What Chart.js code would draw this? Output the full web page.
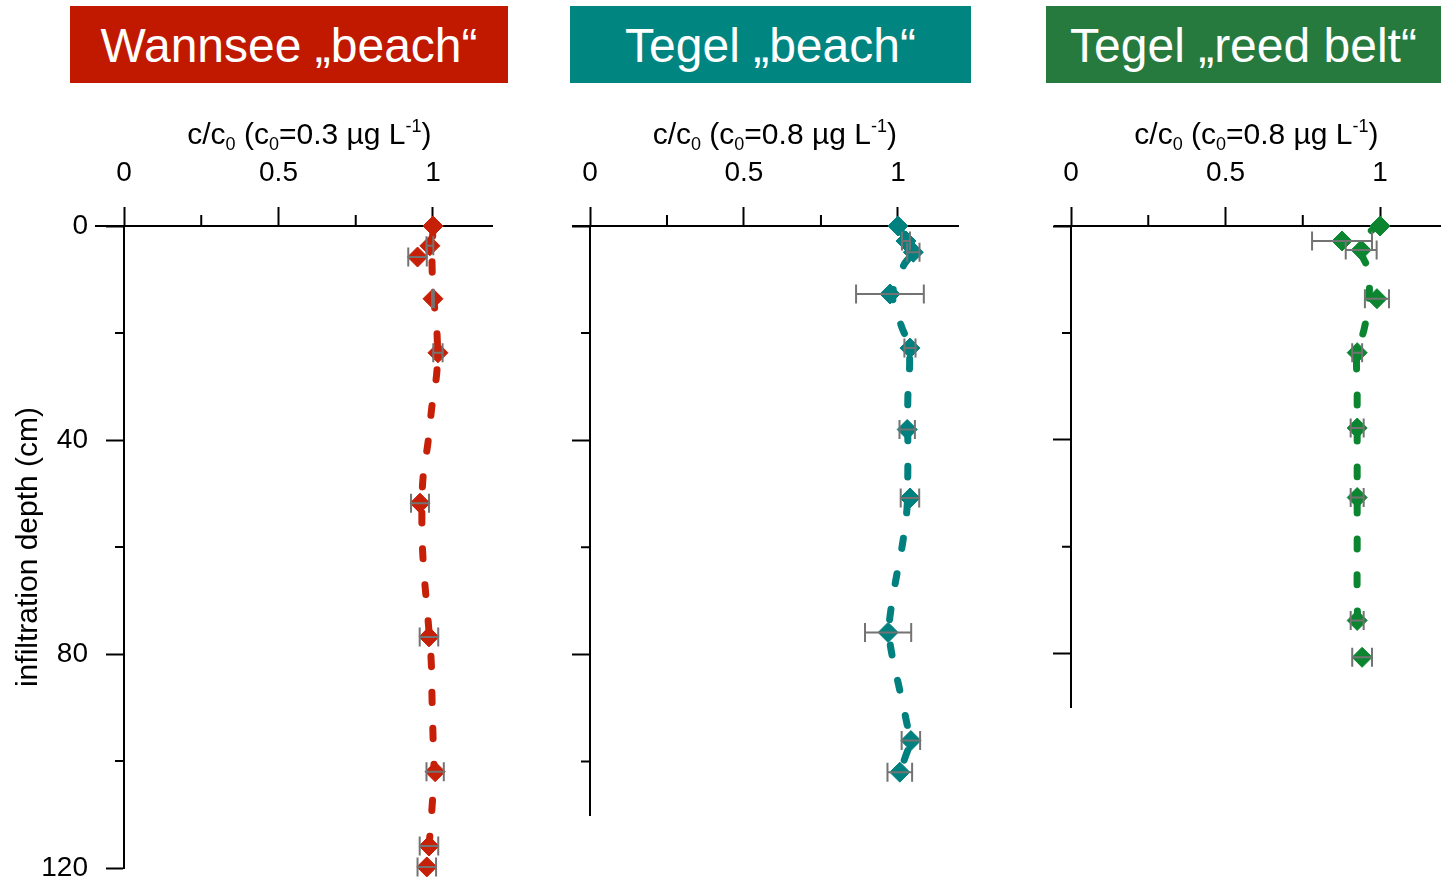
<!DOCTYPE html>
<html>
<head>
<meta charset="utf-8">
<script src="https://cdn.jsdelivr.net/npm/chart.js@4.4.1/dist/chart.umd.min.js"></script>
<style>
  html, body { margin: 0; padding: 0; background: #fff; }
  #wrap { position: relative; width: 1441px; height: 884px; overflow: hidden; font-family: "Liberation Sans", Arial, sans-serif; }
  canvas { position: absolute; left: 0; top: 0; }
  .head { position: absolute; top: 6px; height: 77px; line-height: 79px; color: #fff; font-size: 48px; text-align: center; white-space: nowrap; }
</style>
</head>
<body>
<div id="wrap">
  <div class="head" style="left:70px;width:438px;background:#c01900">Wannsee „beach“</div>
  <div class="head" style="left:570px;width:401px;background:#008581">Tegel „beach“</div>
  <div class="head" style="left:1046px;width:395px;background:#267a3e">Tegel „reed belt“</div>
  <canvas id="c1" width="1441" height="884"></canvas>
  <canvas id="c2" width="1441" height="884"></canvas>
  <canvas id="c3" width="1441" height="884"></canvas>
</div>
<script>
// measured profiles: depth (cm), c/c0 and its error
const wannseeDepth = [0, 3.7, 5.8, 13.6, 23.7, 51.8, 76.8, 102, 115.9, 119.8];
const wannseeRatio = [1.0, 0.99, 0.95, 1.0, 1.016, 0.958, 0.987, 1.007, 0.987, 0.98];
const wannseeErr   = [0, 0.011, 0.03, 0.003, 0.015, 0.029, 0.03, 0.028, 0.03, 0.03];
const wannseeTrendDepth = [0, 7.3, 13.8, 20, 26.9, 33.5, 40.4, 46.9, 54.4, 62.4, 73.6, 81.1, 88.6, 95.1, 102, 108.6, 115.9, 120];
const wannseeTrendRatio = [1.0, 0.997, 1.003, 1.013, 1.013, 0.997, 0.984, 0.968, 0.964, 0.968, 0.984, 0.994, 0.997, 1.0, 1.003, 0.997, 0.987, 0.98];

const tegelDepth = [0, 2.8, 4.9, 12.7, 22.8, 38.0, 50.8, 75.9, 96.1, 102.0];
const tegelRatio = [1.0, 1.026, 1.05, 0.974, 1.039, 1.03, 1.039, 0.968, 1.042, 1.006];
const tegelErr   = [0, 0.013, 0.02, 0.11, 0.018, 0.025, 0.03, 0.075, 0.03, 0.04];
const tegelTrendDepth = [0, 2.6, 4.9, 7.3, 12.7, 18.5, 22.8, 32.5, 38.1, 46, 53, 60, 67.1, 73, 75.9, 80.2, 86.7, 92.9, 96.1, 99.3, 102];
const tegelTrendRatio = [1.0, 1.026, 1.045, 1.019, 0.983, 1.01, 1.036, 1.032, 1.032, 1.032, 1.029, 1.013, 0.99, 0.974, 0.971, 0.981, 1.006, 1.029, 1.039, 1.023, 1.006];

const reedDepth = [0, 2.8, 4.5, 13.6, 23.7, 37.8, 50.8, 73.8, 80.7];
const reedRatio = [1.0, 0.877, 0.939, 0.99, 0.926, 0.926, 0.926, 0.926, 0.942];
const reedErr   = [0, 0.097, 0.05, 0.039, 0.016, 0.021, 0.021, 0.021, 0.032];
const reedTrendDepth = [0, 1.1, 4.5, 8.2, 13.8, 19.4, 23.7, 30, 40, 50, 60, 70, 76];
const reedTrendRatio = [1.0, 0.968, 0.939, 0.961, 0.964, 0.948, 0.926, 0.926, 0.926, 0.926, 0.926, 0.926, 0.929];

const xTickValues = [0, 0.25, 0.5, 0.75, 1];
const xTickLabels = ['0', '', '0.5', '', '1'];
const yTickValues = [0, 20, 40, 60, 80, 100, 120];
const yTitle = 'infiltration depth (cm)';

const FONT = '"Liberation Sans", Arial, sans-serif';
const X_AXIS_H = 100;
const Y_AXIS_W = 113;
const AREA_TOP = 226;

function drawRich(ctx, pieces, cx, base) {
  const fonts = { n: '30px ' + FONT, sub: '18px ' + FONT, sup: '18px ' + FONT };
  const shift = { n: 0, sub: 6, sup: -12 };
  let total = 0;
  pieces.forEach(p => { ctx.font = fonts[p[1]]; total += ctx.measureText(p[0]).width; });
  let xx = cx - total / 2;
  ctx.textAlign = 'left';
  ctx.textBaseline = 'alphabetic';
  pieces.forEach(p => {
    ctx.font = fonts[p[1]];
    ctx.fillText(p[0], xx, base + shift[p[1]]);
    xx += ctx.measureText(p[0]).width;
  });
}

function noPad(s) {
  s.paddingLeft = s.paddingRight = s.paddingTop = s.paddingBottom = 0;
}

const extras = {
  id: 'extras',
  afterDatasetsDraw(chart, args, o) {
    const { ctx, scales: { x, y } } = chart;
    ctx.save();
    ctx.strokeStyle = '#737373';
    ctx.lineWidth = 2;
    o.depth.forEach((d, i) => {
      if (!o.err[i]) return;
      const py = y.getPixelForValue(d);
      const x1 = x.getPixelForValue(o.ratio[i] - o.err[i]);
      const x2 = x.getPixelForValue(o.ratio[i] + o.err[i]);
      ctx.beginPath();
      ctx.moveTo(x1, py); ctx.lineTo(x2, py);
      ctx.moveTo(x1, py - 9.5); ctx.lineTo(x1, py + 9.5);
      ctx.moveTo(x2, py - 9.5); ctx.lineTo(x2, py + 9.5);
      ctx.stroke();
    });
    ctx.restore();
  },
  afterDraw(chart, args, o) {
    const { ctx, scales: { x, y } } = chart;
    const x0 = x.getPixelForValue(0);
    const y0 = y.getPixelForValue(0);
    ctx.save();
    ctx.strokeStyle = '#000';
    ctx.lineWidth = 2;
    ctx.beginPath();
    // axis line continues left of the depth axis
    ctx.moveTo(o.axisLeft, y0); ctx.lineTo(x0, y0);
    [0.25, 0.75].forEach(v => {
      const px = x.getPixelForValue(v);
      ctx.moveTo(px, y0); ctx.lineTo(px, y0 - 11);
    });
    yTickValues.filter(v => v % 40 === 20 && v <= y.max).forEach(v => {
      const py = y.getPixelForValue(v);
      ctx.moveTo(x0, py); ctx.lineTo(x0 - 9, py);
    });
    ctx.stroke();
    ctx.fillStyle = '#000';
    drawRich(ctx, [['c/c', 'n'], ['0', 'sub'], [' (c', 'n'], ['0', 'sub'], ['=' + o.c0 + ' µg L', 'n'], ['-1', 'sup'], [')', 'n']],
      x.getPixelForValue(0.6), 144);
    ctx.restore();
  }
};

function makePanel(id, p) {
  return new Chart(document.getElementById(id), {
    type: 'scatter',
    data: {
      datasets: [
        {
          data: p.depth.map((d, i) => ({ x: p.ratio[i], y: d })),
          pointStyle: 'rectRot',
          pointRadius: 10,
          pointHoverRadius: 10,
          backgroundColor: p.color,
          borderColor: p.color,
          borderWidth: 1,
          clip: false
        },
        {
          data: p.trendDepth.map((d, i) => ({ x: p.trendRatio[i], y: d })),
          showLine: true,
          pointRadius: 0,
          borderColor: p.color,
          borderWidth: 7,
          borderDash: [10, 26],
          borderCapStyle: 'round',
          tension: 0.4,
          clip: false
        }
      ]
    },
    options: {
      responsive: false,
      animation: false,
      events: [],
      layout: {
        autoPadding: false,
        padding: { left: p.zeroPx - Y_AXIS_W, right: 1441 - p.right, top: AREA_TOP - X_AXIS_H, bottom: 884 - p.bottom }
      },
      plugins: {
        legend: { display: false },
        tooltip: { enabled: false },
        extras: { depth: p.depth, ratio: p.ratio, err: p.err, c0: p.c0, axisLeft: p.axisLeft }
      },
      scales: {
        x: {
          type: 'linear',
          position: 'top',
          min: 0,
          max: p.xMax,
          afterBuildTicks: s => { s.ticks = xTickValues.map(v => ({ value: v })); },
          afterFit: s => { s.height = X_AXIS_H; noPad(s); },
          grid: {
            drawOnChartArea: false,
            tickLength: 19,
            tickWidth: 2,
            tickColor: c => (c.tick && c.tick.value % 0.5 === 0) ? '#000' : 'rgba(0,0,0,0)'
          },
          border: { color: '#000', width: 2 },
          ticks: {
            autoSkip: false,
            maxRotation: 0,
            padding: 17,
            color: '#000',
            font: { size: 28, family: FONT },
            callback: v => xTickLabels[xTickValues.indexOf(v)] || ''
          }
        },
        y: {
          type: 'linear',
          position: 'left',
          reverse: true,
          min: 0,
          max: p.yMax,
          afterBuildTicks: s => { s.ticks = yTickValues.filter(v => v <= p.yMax).map(v => ({ value: v })); },
          afterFit: s => { s.width = Y_AXIS_W; noPad(s); },
          grid: {
            drawOnChartArea: false,
            tickLength: 18,
            tickWidth: 2,
            tickColor: c => (c.tick && c.tick.value % 40 === 0) ? '#000' : 'rgba(0,0,0,0)'
          },
          border: { color: '#000', width: 2 },
          title: {
            display: p.showY,
            text: yTitle,
            color: '#000',
            padding: 0,
            font: { size: 30, family: FONT }
          },
          ticks: {
            autoSkip: false,
            padding: 18,
            color: '#000',
            font: { size: 28, family: FONT },
            callback: v => (p.showY && v % 40 === 0) ? String(v) : ''
          }
        }
      }
    },
    plugins: [extras]
  });
}

makePanel('c1', {
  depth: wannseeDepth, ratio: wannseeRatio, err: wannseeErr,
  trendDepth: wannseeTrendDepth, trendRatio: wannseeTrendRatio,
  color: '#c62008', c0: '0.3', showY: true,
  axisLeft: 95, zeroPx: 124, right: 492, bottom: 868, yMax: 120, xMax: 1.191
});
makePanel('c2', {
  depth: tegelDepth, ratio: tegelRatio, err: tegelErr,
  trendDepth: tegelTrendDepth, trendRatio: tegelTrendRatio,
  color: '#00807e', c0: '0.8', showY: false,
  axisLeft: 572, zeroPx: 590, right: 958, bottom: 815, yMax: 110, xMax: 1.195
});
makePanel('c3', {
  depth: reedDepth, ratio: reedRatio, err: reedErr,
  trendDepth: reedTrendDepth, trendRatio: reedTrendRatio,
  color: '#0c8530', c0: '0.8', showY: false,
  axisLeft: 1054, zeroPx: 1071, right: 1440, bottom: 707, yMax: 90, xMax: 1.194
});
</script>
</body>
</html>
